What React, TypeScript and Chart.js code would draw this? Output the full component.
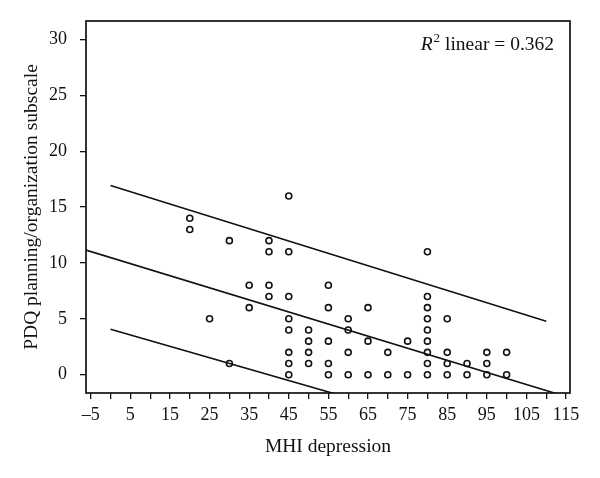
import React, { useEffect, useRef } from "react";
import { Chart, registerables } from "chart.js";

Chart.register(...registerables);

// MHI depression (x) and PDQ planning/organization subscale (y) for each subject
const mhiValues: number[] = [
  20, 20, 25, 30, 30, 35, 35, 40, 40, 40, 40,
  45, 45, 45, 45, 45, 45, 45, 45,
  50, 50, 50, 50,
  55, 55, 55, 55, 55,
  60, 60, 60, 60,
  65, 65, 65,
  70, 70,
  75, 75,
  80, 80, 80, 80, 80, 80, 80, 80, 80,
  85, 85, 85, 85,
  90, 90,
  95, 95, 95,
  100, 100,
];
const pdqValues: number[] = [
  14, 13, 5, 12, 1, 8, 6, 12, 11, 8, 7,
  16, 11, 7, 5, 4, 2, 1, 0,
  4, 3, 2, 1,
  8, 6, 3, 1, 0,
  5, 4, 2, 0,
  6, 3, 0,
  2, 0,
  3, 0,
  11, 7, 6, 5, 4, 3, 2, 1, 0,
  5, 2, 1, 0,
  1, 0,
  2, 1, 0,
  2, 0,
];

// Linear fit and individual prediction limits (end points)
const fitX: number[] = [-6.2, 116];
const fitY: number[] = [11.15, -2.07];
const upperX: number[] = [0, 110];
const upperY: number[] = [16.94, 4.79];
const lowerX: number[] = [0, 110];
const lowerY: number[] = [4.07, -7.16];

const xTickLabels: number[] = [-5, 5, 15, 25, 35, 45, 55, 65, 75, 85, 95, 105, 115];
const yTickValues: number[] = [0, 5, 10, 15, 20, 25, 30];

const xTitle = "MHI depression";
const yTitle = "PDQ planning/organization subscale";
const r2Text = " linear = 0.362";

const SERIF = '"Liberation Serif", "DejaVu Serif", "Times New Roman", serif';

const toPts = (xs: number[], ys: number[]) => xs.map((x, i) => ({ x, y: ys[i] }));

export default function App() {
  const canvasRef = useRef<HTMLCanvasElement | null>(null);

  useEffect(() => {
    document.body.style.margin = "0";
    const canvas = canvasRef.current;
    if (!canvas) return;

    const framePlugin = {
      id: "frameAndNote",
      afterDraw(chart: any) {
        const { ctx, chartArea } = chart;
        ctx.save();
        ctx.strokeStyle = "#111";
        ctx.lineWidth = 1.7;
        ctx.strokeRect(chartArea.left, chartArea.top, chartArea.right - chartArea.left, chartArea.bottom - chartArea.top);
        // R^2 annotation
        ctx.fillStyle = "#111";
        ctx.textBaseline = "alphabetic";
        const big = 19.5;
        const small = 13;
        ctx.font = `italic ${big}px ${SERIF}`;
        const wR = ctx.measureText("R").width;
        ctx.font = `${small}px ${SERIF}`;
        const w2 = ctx.measureText("2").width;
        ctx.font = `${big}px ${SERIF}`;
        const wRest = ctx.measureText(r2Text).width;
        const rightX = chartArea.right - 16;
        const baseY = chartArea.top + 29;
        let x = rightX - (wR + w2 + 1 + wRest);
        ctx.font = `italic ${big}px ${SERIF}`;
        ctx.fillText("R", x, baseY);
        x += wR + 1;
        ctx.font = `${small}px ${SERIF}`;
        ctx.fillText("2", x, baseY - 8);
        x += w2;
        ctx.font = `${big}px ${SERIF}`;
        ctx.fillText(r2Text, x, baseY);
        ctx.restore();
      },
    };

    const chart = new Chart(canvas, {
      type: "scatter",
      data: {
        datasets: [
          {
            label: "Subjects",
            data: toPts(mhiValues, pdqValues),
            pointRadius: 3,
            pointBorderWidth: 1.6,
            pointBackgroundColor: "rgba(255,255,255,0)",
            pointBorderColor: "#111",
            showLine: false,
          },
          {
            label: "Fit",
            data: toPts(fitX, fitY),
            showLine: true,
            pointRadius: 0,
            borderColor: "#111",
            borderWidth: 1.6,
          },
          {
            label: "Upper",
            data: toPts(upperX, upperY),
            showLine: true,
            pointRadius: 0,
            borderColor: "#111",
            borderWidth: 1.6,
          },
          {
            label: "Lower",
            data: toPts(lowerX, lowerY),
            showLine: true,
            pointRadius: 0,
            borderColor: "#111",
            borderWidth: 1.6,
          },
        ],
      },
      options: {
        animation: false,
        responsive: false,
        devicePixelRatio: 1,
        layout: { padding: { left: 0, right: 30, top: 21, bottom: 0 } },
        plugins: {
          legend: { display: false },
          tooltip: { enabled: false },
        },
        scales: {
          x: {
            type: "linear",
            min: -6.2,
            max: 116,
            afterFit: (s: any) => {
              s.height = 85;
              s.paddingLeft = 0;
              s.paddingRight = 0;
            },
            border: { display: false },
            grid: {
              display: true,
              drawOnChartArea: false,
              drawTicks: true,
              tickLength: 6,
              color: "#111",
              lineWidth: 1.3,
            },
            ticks: {
              stepSize: 5,
              includeBounds: false,
              autoSkip: false,
              maxRotation: 0,
              padding: 5,
              color: "#111",
              font: { family: SERIF, size: 18 },
              callback: (v: any) => {
                const n = Number(v);
                return xTickLabels.includes(n) ? (n < 0 ? "\u2013" + Math.abs(n) : String(n)) : "";
              },
            },
            title: {
              display: true,
              text: xTitle,
              color: "#111",
              font: { family: SERIF, size: 19.5 },
              padding: { top: 0, bottom: 19 },
            },
          },
          y: {
            type: "linear",
            min: -1.64,
            max: 31.66,
            afterFit: (s: any) => {
              s.width = 86;
              s.paddingTop = 0;
              s.paddingBottom = 0;
            },
            border: { display: false },
            grid: {
              display: true,
              drawOnChartArea: false,
              drawTicks: true,
              tickLength: 6,
              color: "#111",
              lineWidth: 1.3,
            },
            ticks: {
              stepSize: 5,
              includeBounds: false,
              autoSkip: false,
              padding: 13,
              color: "#111",
              font: { family: SERIF, size: 18 },
              callback: (v: any) => {
                const n = Number(v);
                return yTickValues.includes(n) ? String(n) : "";
              },
            },
            title: {
              display: true,
              text: yTitle,
              color: "#111",
              font: { family: SERIF, size: 19.5 },
              padding: { top: 20, bottom: 0 },
            },
          },
        },
      },
      plugins: [framePlugin],
    });

    return () => chart.destroy();
  }, []);

  return (
    <div style={{ position: "absolute", left: 0, top: 0, width: 600, height: 478, background: "#fff" }}>
      <canvas ref={canvasRef} width={600} height={478} style={{ width: 600, height: 478, display: "block" }} />
    </div>
  );
}
